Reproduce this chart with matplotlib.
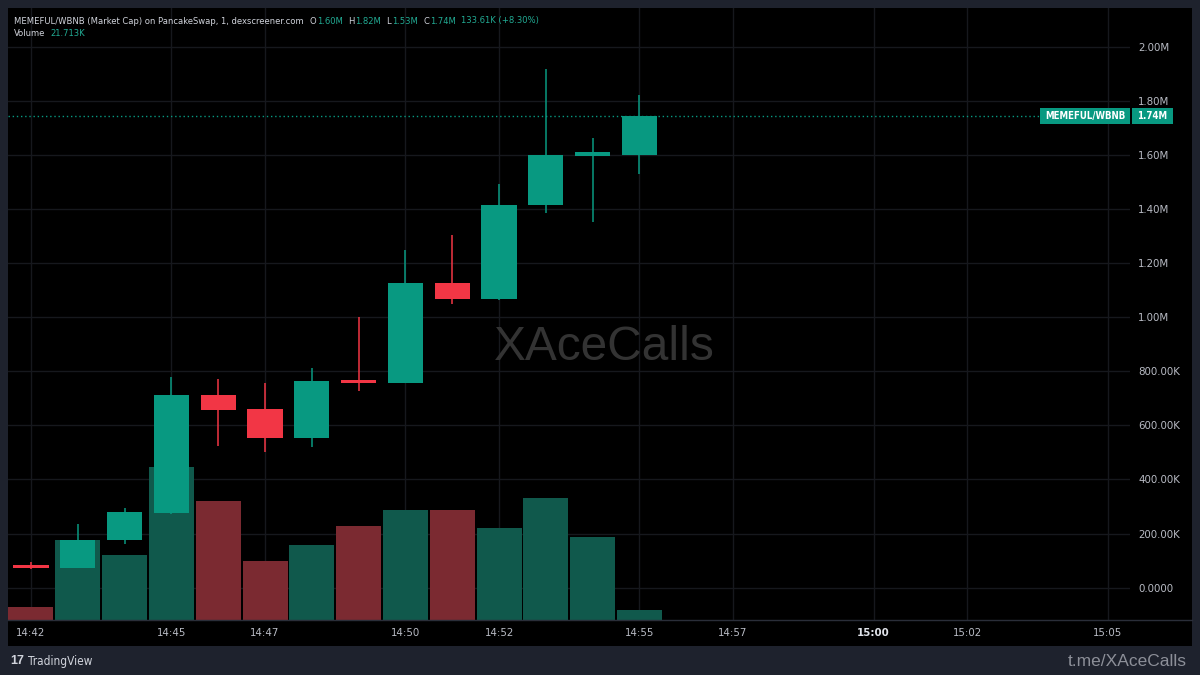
import matplotlib
matplotlib.use("Agg")
import matplotlib.pyplot as plt
from matplotlib.patches import Rectangle
from matplotlib.lines import Line2D
from matplotlib import font_manager
from matplotlib.font_manager import FontProperties
import matplotlib.transforms as mtransforms
import numpy as np

# ---------------- data ----------------
times = ['14:42', '14:43', '14:44', '14:45', '14:46', '14:47', '14:48',
         '14:49', '14:50', '14:51', '14:52', '14:53', '14:54', '14:55']
open_ = [84e3, 74e3, 176e3, 276e3, 713e3, 660e3, 553e3,
         767e3, 757e3, 1125e3, 1068e3, 1415e3, 1597e3, 1600e3]
high = [96e3, 235e3, 295e3, 779e3, 771e3, 756e3, 811e3,
        1000e3, 1250e3, 1304e3, 1491e3, 1917e3, 1664e3, 1820e3]
low = [69e3, 73e3, 162e3, 274e3, 524e3, 503e3, 519e3,
       728e3, 755e3, 1048e3, 1062e3, 1386e3, 1353e3, 1530e3]
close = [74e3, 176e3, 279e3, 713e3, 658e3, 553e3, 765e3,
         757e3, 1125e3, 1067e3, 1415e3, 1599e3, 1610e3, 1743.4e3]
volume = [29e3, 181e3, 147e3, 349e3, 272e3, 134e3, 170e3,
          214e3, 250e3, 250e3, 209e3, 278e3, 189e3, 21.713e3]

time_tick_pos = [0, 3, 5, 8, 10, 13, 15, 18, 20, 23]
time_tick_labels = ['14:42', '14:45', '14:47', '14:50', '14:52', '14:55',
                    '14:57', '15:00', '15:02', '15:05']
price_ticks = [0, 200e3, 400e3, 600e3, 800e3, 1.0e6, 1.2e6, 1.4e6, 1.6e6, 1.8e6, 2.0e6]
price_tick_labels = ['0.0000', '200.00K', '400.00K', '600.00K', '800.00K',
                     '1.00M', '1.20M', '1.40M', '1.60M', '1.80M', '2.00M']

symbol = 'MEMEFUL/WBNB'
header_title = 'MEMEFUL/WBNB (Market Cap) on PancakeSwap, 1, dexscreener.com'
header_ohlc = [('O', '1.60M'), ('H', '1.82M'), ('L', '1.53M'), ('C', '1.74M')]
header_change = '133.61K (+8.30%)'
last_price_label = '1.74M'
volume_label = '21.713K'
watermark = 'XAceCalls'
footer_right = 't.me/XAceCalls'

# ---------------- style ----------------
W, H = 1200, 675
UP, DOWN = '#089981', '#f23645'
UP_VOL, DOWN_VOL = '#10594c', '#7b2a31'
TEAL_TXT = '#22ab94'
FRAME = '#1e222d'
GRID = '#16181d'
TXT = '#d1d4dc'
AX_TXT = '#b8bbc4'
FONT = ['Liberation Sans', 'DejaVu Sans']


def find_narrow(bold=False):
    """Pick an installed condensed/narrow sans font file, if any."""
    best = None
    for f in font_manager.fontManager.ttflist:
        name = f.name.lower()
        narrow = ('narrow' in name or 'condensed' in name or
                  f.stretch in ('condensed', 'semi-condensed', 'extra-condensed'))
        if not narrow or f.style != 'normal':
            continue
        if 'mono' in name or 'serif' in name and 'sans' not in name:
            continue
        w = f.weight if isinstance(f.weight, int) else (700 if 'bold' in str(f.weight) else 400)
        if (w >= 600) != bold:
            continue
        score = 0 if 'liberation' in name else (1 if 'dejavu' in name else 2)
        if best is None or score < best[0]:
            best = (score, f.fname)
    return best[1] if best else None


NARROW_R = find_narrow(False)
NARROW_B = find_narrow(True)


def fp(size, bold=False):
    path = NARROW_B if bold else NARROW_R
    if path:
        return FontProperties(fname=path, size=size)
    return FontProperties(family=FONT, size=size, weight='bold' if bold else 'normal')


HAVE_NARROW = NARROW_R is not None


def fx(px):
    return px / W


def fy(py):
    return 1 - py / H


fig = plt.figure(figsize=(12, 6.75), dpi=100, facecolor=FRAME)

# black chart background (plot + axes areas)
bg = fig.add_axes([fx(8), fy(646), fx(1192 - 8), (646 - 8) / H])
bg.set_facecolor('black')
bg.set_xticks([]); bg.set_yticks([])
for s in bg.spines.values():
    s.set_visible(False)

rect = [fx(8), fy(619.5), fx(1130 - 8), (619.5 - 8) / H]
x = np.arange(len(times))

# volume axes (behind)
axv = fig.add_axes(rect)
axv.set_facecolor('black')
axv.set_xlim(-0.491, 23.48)
axv.set_ylim(0, 1.398e6)
axv.set_xticks(time_tick_pos)
axv.set_yticks([])
axv.tick_params(axis='x', length=0, labelbottom=False)
axv.grid(axis='x', color=GRID, lw=1, zorder=0)
axv.set_axisbelow(True)
for s in axv.spines.values():
    s.set_visible(False)
vcols = [UP_VOL if c >= o else DOWN_VOL for o, c in zip(open_, close)]
axv.bar(x, volume, width=0.962, color=vcols, linewidth=0, zorder=2)
axv.text(fx(604), fy(347), watermark, transform=fig.transFigure, ha='center', va='center',
         fontsize=34.5, color='#333333', family=FONT, zorder=1)

# price axes (front)
ax = fig.add_axes(rect, sharex=axv)
ax.patch.set_visible(False)
ax.set_ylim(-117.6e3, 2.143e6)
for s in ax.spines.values():
    s.set_visible(False)
ax.yaxis.tick_right()
ax.set_yticks(price_ticks)
ax.set_yticklabels(price_tick_labels)
ax.set_xticks(time_tick_pos)
ax.set_xticklabels(time_tick_labels)
ax.tick_params(axis='both', length=0, colors=AX_TXT)
ax.tick_params(axis='y', pad=5.8)
ax.tick_params(axis='x', pad=6)
tick_size = 8.2 if HAVE_NARROW else 8
for lab in ax.get_yticklabels() + ax.get_xticklabels():
    lab.set_fontproperties(fp(tick_size))
for lab in ax.get_xticklabels():
    if lab.get_text() == '15:00':
        lab.set_fontproperties(fp(tick_size, bold=True))
        lab.set_color('#e0e3ea')

# horizontal grid drawn behind the volume bars (price positions)
blend = mtransforms.blended_transform_factory(axv.transAxes, ax.transData)
for p in price_ticks:
    axv.add_line(Line2D([0, 1], [p, p], transform=blend, color=GRID, lw=1, zorder=0.5))

ccols = [UP if c >= o else DOWN for o, c in zip(open_, close)]
ax.vlines(x, low, high, colors=ccols, lw=1.1, zorder=3)
bottoms = [min(o, c) for o, c in zip(open_, close)]
heights = [abs(c - o) for o, c in zip(open_, close)]
ax.bar(x, heights, bottom=bottoms, width=0.75, color=ccols, linewidth=0, zorder=4)

# last price dotted line
ax.axhline(close[-1], color=UP, lw=1, ls=(0, (1, 2)), zorder=2)

# separator between plot and time axis
fig.add_artist(Line2D([fx(8), fx(1192)], [fy(620), fy(620)], color='#2a2e39', lw=1,
                      transform=fig.transFigure))

# price label boxes
fig.canvas.draw()
renderer = fig.canvas.get_renderer()
ypix = ax.transData.transform((0, close[-1]))[1]
yf = ypix / H
bh = 16.5 / H
fig.add_artist(Rectangle((fx(1040), yf - bh / 2), fx(90), bh, transform=fig.transFigure,
                         facecolor=UP, edgecolor='none', zorder=5))
fig.add_artist(Rectangle((fx(1132), yf - bh / 2), fx(41), bh, transform=fig.transFigure,
                         facecolor=UP, edgecolor='none', zorder=5))
t_sym = fig.text(fx(1085), yf, symbol, ha='center', va='center', color='white',
                 fontproperties=fp(9, bold=True), zorder=6)
# fit symbol text into ~80 px
wsym = t_sym.get_window_extent(renderer).width
t_sym.set_fontproperties(fp(9 * 80 / wsym, bold=True))
fig.text(fx(1152.5), yf, last_price_label, ha='center', va='center', color='white',
         fontproperties=fp(t_sym.get_fontsize(), bold=True), zorder=6)


# header texts placed sequentially
def seq(x0, y0, pieces, size):
    xx = x0
    arts = []
    for s, col, gap in pieces:
        t = fig.text(fx(xx), fy(y0), s, color=col, fontproperties=fp(size),
                     ha='left', va='center', zorder=6)
        arts.append(t)
        bb = t.get_window_extent(renderer)
        xx = bb.x1 + gap
    return xx, arts


pieces = [(header_title, TXT, 6)]
for k, v in header_ohlc:
    pieces.append((k, TXT, 1))
    pieces.append((v, TEAL_TXT, 5))
pieces.append((header_change, TEAL_TXT, 0))
size0 = 9
end, arts = seq(14, 21, pieces, size0)
target_end = 540
for a in arts:
    a.remove()
size1 = size0 * (target_end - 14 - 32) / (end - 14 - 32)
seq(14, 21, pieces, size1)
seq(14, 34, [('Volume', TXT, 5), (volume_label, TEAL_TXT, 0)], size1)

# footer
fig.text(fx(10), fy(661), '17', color=TXT, fontsize=9, fontweight='bold', family=FONT,
         ha='left', va='center')
fig.text(fx(28), fy(661), 'TradingView', color=TXT, fontproperties=fp(8.5),
         ha='left', va='center')
fig.text(fx(1187), fy(661), footer_right, color='#8c8f98', fontsize=12.5, family=FONT,
         ha='right', va='center')

fig.savefig('out.png', dpi=100, facecolor=FRAME)
